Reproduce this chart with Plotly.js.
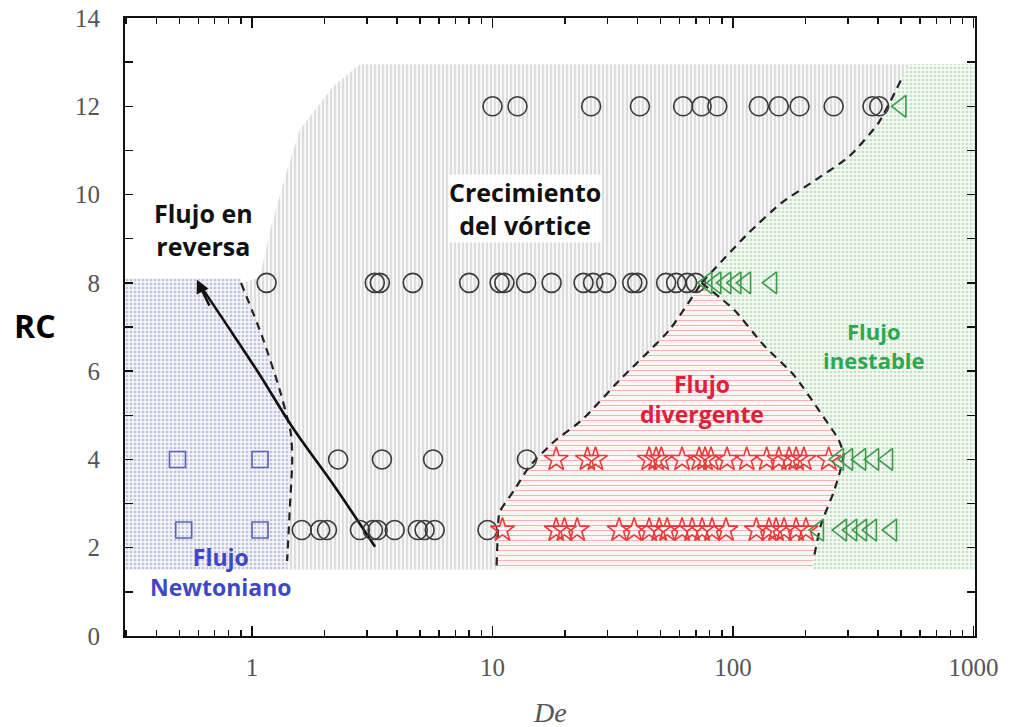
<!DOCTYPE html>
<html><head><meta charset="utf-8">
<script src="https://cdn.plot.ly/plotly-3.0.1.min.js"></script>
<style>html,body{margin:0;padding:0;background:#fff}#chart{width:1010px;height:727px}</style>
</head><body><div id="chart"></div>
<script>
// ---------- data (De, RC) ----------
const circleDe12 = [10, 12.7, 25.7, 41, 62, 74, 86, 128, 155, 189, 262, 380, 405];
const circleDe8  = [1.15, 3.24, 3.40, 4.66, 8.0, 10.7, 11.2, 13.8, 17.6, 23.9, 26.2, 29.7, 38.1, 40, 52.7, 58, 64.4, 70];
const circleDe4  = [2.28, 3.47, 5.66, 13.9];
const circleDe24 = [1.61, 1.92, 2.05, 2.81, 3.18, 3.33, 3.92, 4.89, 5.22, 5.75, 9.53];

const squareDe4  = [0.49, 1.08];
const squareDe24 = [0.52, 1.08];

const starDe4  = [18.4, 24.8, 26.8, 44.8, 47.9, 50.3, 61.4, 72.3, 76.5, 81, 94.4, 114, 138, 155, 171, 183, 197, 250];
const starDe24 = [11, 18.4, 19.9, 22.5, 33.6, 38.8, 44.8, 49.3, 53.2, 61.4, 67.6, 74.4, 81.8, 93.5, 125, 141, 151, 163, 183, 201];

const triDe12 = [500];
const triDe8  = [78, 85, 93.5, 103, 113, 145];
const triDe4  = [275, 300, 340, 385, 440];
const triDe24 = [227, 283, 312, 343, 377, 457];

const rowRC = {r12: 12, r8: 8, r4: 4, r24: 2.4};

// region boundaries
const leftDashDe = [0.9, 1.1, 1.3, 1.45, 1.47, 1.44, 1.4];
const leftDashRC = [8.0, 6.8, 5.6, 4.6, 4.0, 3.0, 1.7];
const divLeftDe = [10.4, 10.5, 10.7, 12.3, 14.2, 18, 23.6, 33.8, 54.3, 74];
const divLeftRC = [1.6, 2.2, 2.8, 3.3, 3.83, 4.4, 4.9, 5.8, 6.93, 8.0];
const divRightDe = [74, 101, 134, 179, 227, 275, 288, 264, 232, 216];
const divRightRC = [8.0, 7.39, 6.59, 5.91, 5.12, 4.44, 4.1, 3.31, 2.52, 1.72];
const upperDe = [74, 116, 159, 220, 302, 402, 505];
const upperRC = [8.0, 9.13, 9.81, 10.33, 10.85, 11.62, 12.65];
const vortexTopLeftDe = [2.81, 2.17, 1.58, 1.40, 1.19, 1.08, 0.92];
const vortexTopLeftRC = [12.95, 12.44, 11.46, 10.56, 9.2, 8.13, 8.0];
const arrowDe = [3.25, 2.21, 1.48, 1.059, 0.772, 0.60];
const arrowRC = [2.02, 3.38, 4.71, 5.98, 7.11, 8.0];

const RC_BOTTOM = 1.5, RC_TOP = 12.95, DE_MIN = 0.297, DE_MAX = 1014;

const xTickVals = [1, 10, 100, 1000];
const xTickText = ['1', '10', '100', '1000'];
const xMinorVals = [0.3,0.4,0.5,0.6,0.7,0.8,0.9,2,3,4,5,6,7,8,9,20,30,40,50,60,70,80,90,200,300,400,500,600,700,800,900];
const yTickVals = [0,1,2,3,4,5,6,7,8,9,10,11,12,13,14];
const yTickText = yTickVals.map(v => v % 2 === 0 ? String(v) : '');

// ---------- build ----------
const rep = (arr, v) => arr.map(() => v);
const rev = a => a.slice().reverse();

const newtDe = [DE_MIN, 1.4].concat(rev(leftDashDe), [0.9, DE_MIN]);
const newtRC = [RC_BOTTOM, RC_BOTTOM].concat(rev(leftDashRC), [8.1, 8.1]);

const vortDe = [1.4, 10.4].concat(divLeftDe, upperDe.slice(1), [540], vortexTopLeftDe, leftDashDe);
const vortRC = [RC_BOTTOM, RC_BOTTOM].concat(divLeftRC, upperRC.slice(1), [RC_TOP], vortexTopLeftRC, leftDashRC);

const divDe = [10.4].concat(divLeftDe, divRightDe.slice(1), [215]);
const divRC = [RC_BOTTOM].concat(divLeftRC, divRightRC.slice(1), [RC_BOTTOM]);

const unstDe = [215].concat(rev(divRightDe), upperDe.slice(1), [540, DE_MAX, DE_MAX]);
const unstRC = [RC_BOTTOM].concat(rev(divRightRC), upperRC.slice(1), [RC_TOP, RC_TOP, RC_BOTTOM]);

function region(x, y, shape, fg, bg, size, sol) {
  return {x, y, type: 'scatter', mode: 'none', fill: 'toself', fillcolor: bg,
    fillpattern: {shape, fgcolor: fg, bgcolor: bg, size, solidity: sol}, hoverinfo: 'skip'};
}
function dashLine(x, y) {
  return {x, y, type: 'scatter', mode: 'lines', line: {color: '#222', width: 2.2, dash: '8px,6px', shape: 'spline', smoothing: 0.6}, hoverinfo: 'skip'};
}
function markers(xs, ys, symbol, color, size) {
  return {x: xs, y: ys, type: 'scatter', mode: 'markers',
    marker: {symbol, size, color, line: {color, width: 1.6}}};
}

const cX = circleDe12.concat(circleDe8, circleDe4, circleDe24);
const cY = rep(circleDe12, rowRC.r12).concat(rep(circleDe8, rowRC.r8), rep(circleDe4, rowRC.r4), rep(circleDe24, rowRC.r24));
const sX = squareDe4.concat(squareDe24);
const sY = rep(squareDe4, rowRC.r4).concat(rep(squareDe24, rowRC.r24));
const stX = starDe4.concat(starDe24);
const stY = rep(starDe4, rowRC.r4).concat(rep(starDe24, rowRC.r24));
const tX = triDe12.concat(triDe8, triDe4, triDe24);
const tY = rep(triDe12, rowRC.r12).concat(rep(triDe8, rowRC.r8), rep(triDe4, rowRC.r4), rep(triDe24, rowRC.r24));

const data = [
  region(vortDe, vortRC, '|', '#c4c4c4', '#f7f7f7', 4, 0.25),
  region(newtDe, newtRC, '.', '#c0c0dc', '#f3f3f9', 4, 0.35),
  region(divDe, divRC, '-', '#f6b0b0', '#fff6f6', 5, 0.2),
  region(unstDe, unstRC, '.', '#c4e0c4', '#f4faf4', 4, 0.35),
  dashLine(leftDashDe, leftDashRC),
  dashLine(divLeftDe, divLeftRC),
  dashLine(divRightDe, divRightRC),
  dashLine(upperDe, upperRC),
  {x: arrowDe, y: arrowRC, type: 'scatter', mode: 'lines', line: {color: '#111', width: 2.6, shape: 'spline'}, hoverinfo: 'skip'},
  markers(cX, cY, 'circle-open', '#3a3a3a', 19),
  markers(sX, sY, 'square-open', '#5a64b4', 16),
  markers(stX, stY, 'star-open', '#e83a3a', 18),
  markers(tX, tY, 'triangle-left-open', '#3f9a4a', 19)
];

const L = Math.log10;
const boldFont = (size, color) => ({family: 'Open Sans, sans-serif', size, color, weight: 'bold'});
function label(text, de, rc, color, size, bg) {
  return {x: L(de), y: rc, xref: 'x', yref: 'y', xanchor: 'center', yanchor: 'middle',
    text: '<b>' + text + '</b>', showarrow: false,
    font: boldFont(size, color), bgcolor: bg || 'rgba(0,0,0,0)', borderpad: 0};
}

const annotations = [
  label('Flujo en<br>reversa', 0.63, 9.2, '#111', 25),
  label('Crecimiento<br>del vórtice', 13.7, 9.68, '#111', 25, 'rgba(255,255,255,0.92)'),
  label('Flujo<br>divergente', 74, 5.36, '#e0203a', 23),
  label('Flujo<br>inestable', 385, 6.58, '#2ea84f', 22),
  label('Flujo<br>Newtoniano', 0.74, 1.45, '#3f48c4', 23),
  {x: L(0.59), y: 8.07, ax: L(0.67), ay: 7.45, xref: 'x', yref: 'y', axref: 'x', ayref: 'y',
   text: '', showarrow: true, arrowhead: 2, arrowsize: 1.1, arrowwidth: 2.4, arrowcolor: '#111'},
  {x: -0.106, y: 0.503, xref: 'paper', yref: 'paper', xanchor: 'center', yanchor: 'middle',
   text: '<b>RC</b>', showarrow: false, font: boldFont(32, '#000')},
  {x: 0.5, y: -0.123, xref: 'paper', yref: 'paper', xanchor: 'center', yanchor: 'middle',
   text: '<i>De</i>', showarrow: false, font: {family: 'Liberation Serif, serif', size: 28, color: '#555'}}
];

const layout = {
  width: 1010, height: 727,
  margin: {l: 125, r: 35, t: 18, b: 91},
  paper_bgcolor: '#fff', plot_bgcolor: '#fff',
  showlegend: false,
  xaxis: {type: 'log', range: [-0.528, 3.006], showgrid: false, zeroline: false,
    showline: true, linecolor: '#111', linewidth: 2, mirror: 'ticks',
    ticks: 'inside', ticklen: 10, tickwidth: 1.5, tickcolor: '#111',
    tickmode: 'array', tickvals: xTickVals, ticktext: xTickText, ticklabelstandoff: 8,
    tickfont: {family: 'Liberation Serif, serif', size: 25, color: '#555'},
    minor: {tickmode: 'array', tickvals: xMinorVals,
      ticks: 'inside', ticklen: 6, tickwidth: 1.5, tickcolor: '#111', showgrid: false}},
  yaxis: {range: [0, 14], showgrid: false, zeroline: false,
    showline: true, linecolor: '#111', linewidth: 2, mirror: 'ticks',
    ticks: 'inside', ticklen: 8, tickwidth: 1.5, tickcolor: '#111',
    tickmode: 'array', tickvals: yTickVals, ticktext: yTickText, ticklabelstandoff: 18,
    tickfont: {family: 'Liberation Serif, serif', size: 25, color: '#555'}},
  annotations
};

Plotly.newPlot('chart', data, layout, {displayModeBar: false, staticPlot: true});
</script></body></html>
